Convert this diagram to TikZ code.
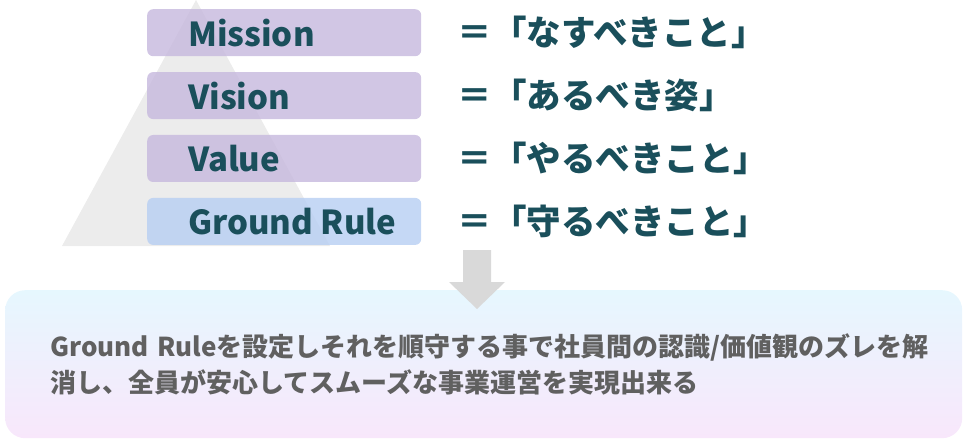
\documentclass[tikz,border=0pt]{standalone}
\usepackage{fontspec}
\setmainfont{Noto Sans CJK JP}
\usepackage{tikz}
\usetikzlibrary{positioning, calc, shapes.geometric, arrows.meta, backgrounds}
\tikzset{>={Stealth}}
\definecolor{tierpurple}{RGB}{198,184,221}
\definecolor{tierblue}{RGB}{183,206,243}
\definecolor{labelteal}{RGB}{26,79,91}
\definecolor{pyramidgray}{RGB}{236,236,236}
\definecolor{arrowgray}{RGB}{217,217,217}
\definecolor{resulttop}{RGB}{230,247,254}
\definecolor{resultbottom}{RGB}{248,231,251}
\definecolor{resulttext}{RGB}{96,96,96}

\begin{document}
\begin{tikzpicture}[
      node distance=15.5pt,
      tier/.style={rectangle, rounded corners=6pt, minimum width=274pt, minimum height=47pt, inner sep=0pt, fill opacity=0.8, text opacity=1, text=labelteal, font=\fontsize{33}{36}\selectfont\bfseries},
      meaning/.style={inner sep=0pt, text=labelteal, font=\fontsize{34.5}{38}\selectfont\bfseries},
      resultbox/.style={rectangle, rounded corners=20pt, minimum width=957pt, minimum height=148pt, text width=867pt, inner xsep=45pt, align=left, top color=resulttop, bottom color=resultbottom, text=resulttext, font=\fontsize{26}{36}\selectfont\bfseries}
    ]
    \useasboundingbox (0pt,0pt) rectangle (970pt,-441pt);

    % 0. PYRAMID
    \fill[pyramidgray] (196pt,0pt) -- (62pt,-246pt) -- (330pt,-246pt) -- cycle;

    % 1. MISSION
    \node[tier, fill=tierpurple, anchor=north west] (mission) at (147pt,-9pt) {\makebox[274pt][l]{\hspace{41pt}Mission}};
    \node[meaning, right=36pt of mission] (missiontxt) {＝「なすべきこと」};

    % 2. VISION
    \node[tier, fill=tierpurple, below=of mission] (vision) {\makebox[274pt][l]{\hspace{41pt}Vision}};
    \node[meaning, right=36pt of vision] (visiontxt) {＝「あるべき姿」};

    % 3. VALUE
    \node[tier, fill=tierpurple, below=of vision] (value) {\makebox[274pt][l]{\hspace{41pt}Value}};
    \node[meaning, right=36pt of value] (valuetxt) {＝「やるべきこと」};

    % 4. GROUND RULE
    \node[tier, fill=tierblue, below=of value] (groundrule) {\makebox[274pt][l]{\hspace{41pt}Ground Rule}};
    \node[meaning, right=36pt of groundrule] (groundruletxt) {＝「守るべきこと」};

    % 5. RESULT
    \node[resultbox, anchor=north west] (result) at (5pt,-290pt) {
      Ground Ruleを設定しそれを順守する事で社員間の認識/価値観のズレを解\\
      消し、全員が安心してスムーズな事業運営を実現出来る
    };

    %%% DOWN ARROW
    \coordinate (arrtop) at (477pt,-250pt);
    \coordinate (arrtip) at (477pt,-309pt);
    \fill[arrowgray] ($(arrtop)+(-14pt,0)$) -- ($(arrtop)+(14pt,0)$) -- ($(arrtip)+(14pt,27pt)$) -- ($(arrtip)+(28pt,27pt)$) -- (arrtip) -- ($(arrtip)+(-28pt,27pt)$) -- ($(arrtip)+(-14pt,27pt)$) -- cycle;
\end{tikzpicture}
\end{document}
